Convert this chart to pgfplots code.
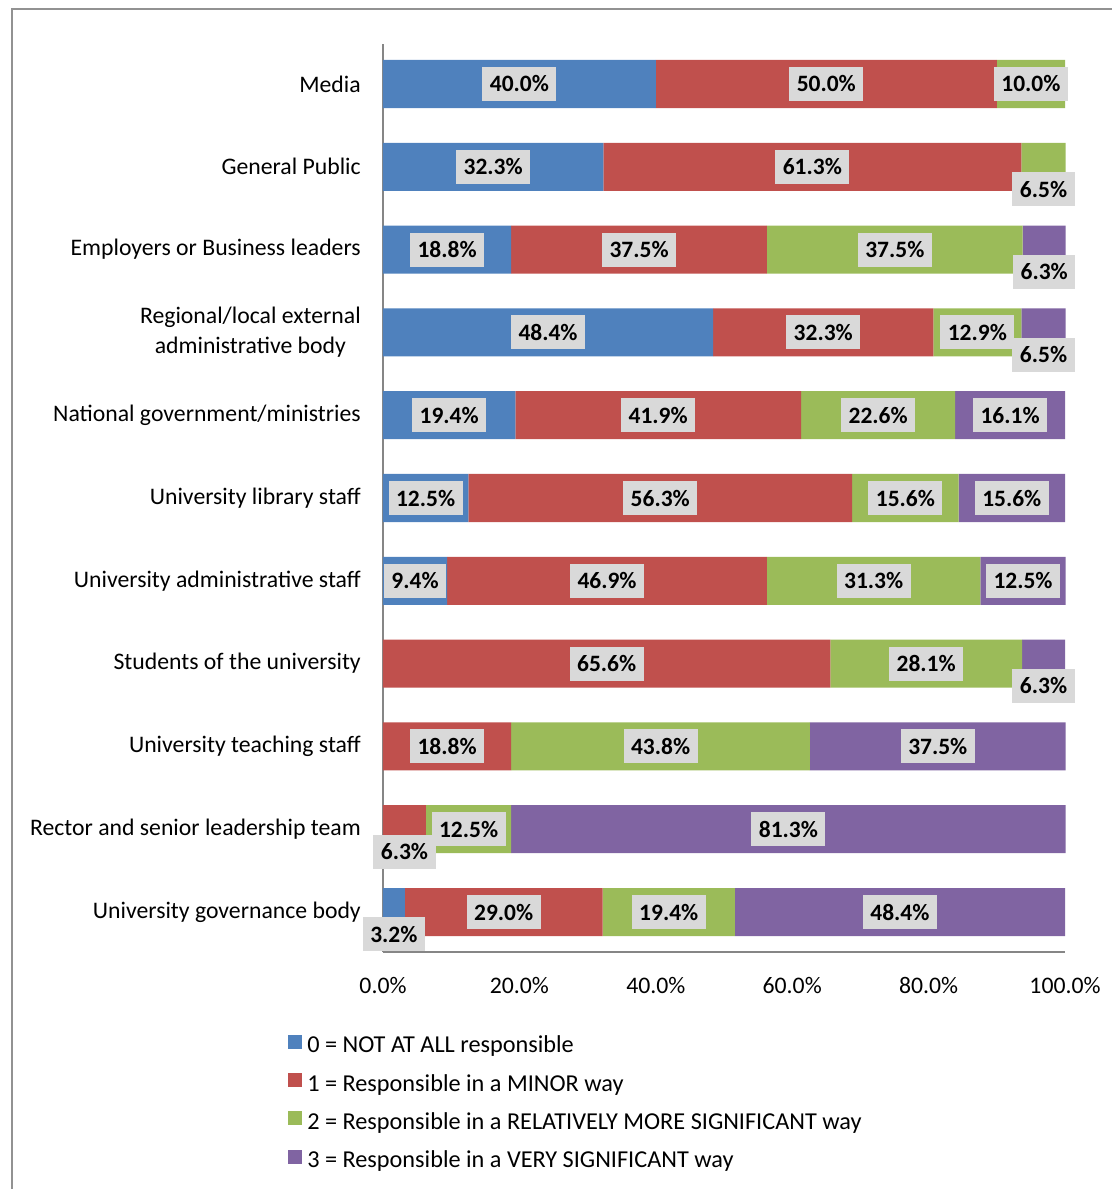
\documentclass[border=0pt]{standalone}
\usepackage{pgfplots}
\pgfplotsset{compat=1.18}
\usepackage{pgfplotstable}
\usepackage{fontspec}
\setmainfont{Carlito}
\definecolor{cA}{HTML}{4F81BD}
\definecolor{cB}{HTML}{C0504D}
\definecolor{cC}{HTML}{9BBB59}
\definecolor{cD}{HTML}{8064A2}
\definecolor{boxgray}{HTML}{D9D9D9}
\definecolor{axgray}{HTML}{868686}

\pgfplotstableread{
idx a b c d
10 40.0 50.0 10.0 0
9 32.3 61.3 6.5 0
8 18.8 37.5 37.5 6.3
7 48.4 32.3 12.9 6.5
6 19.4 41.9 22.6 16.1
5 12.5 56.3 15.6 15.6
4 9.4 46.9 31.3 12.5
3 0 65.6 28.1 6.3
2 0 18.8 43.8 37.5
1 0 6.3 12.5 81.3
0 3.2 29.0 19.4 48.4
}\datatable

\pgfplotsset{
  /pgf/number format/assume math mode=true,
  lbl/.style={forget plot, only marks, mark=none, stack plots=false, point meta=explicit,
    nodes near coords={\pgfmathprintnumber[fixed,fixed zerofill,precision=1]{\pgfplotspointmeta}\%},
    every node near coord/.append style={anchor=center, fill=boxgray, text=black,
      font=\fontsize{17.6}{21}\selectfont\bfseries, inner xsep=5.6pt, inner ysep=0pt, minimum height=25.5pt}},
}
% labels of a stacked axis are put at half of the given x, so x expr gives twice the segment centre
\newcommand\lblplot[2]{%
  \addplot[lbl, restrict expr to domain={\thisrow{#2}}{7:1000}] table[x expr={#1}, y=idx, meta=#2]{\datatable};
  \addplot[lbl, restrict expr to domain={\thisrow{#2}}{0.5:7}] table[x expr={#1}, y expr=\thisrow{idx}-0.27, meta=#2]{\datatable};
}

\begin{document}
\begin{tikzpicture}
\begin{axis}[
  at={(287.25pt,-714pt)}, anchor=south west,
  width=511.5pt, height=681pt, scale only axis,
  xbar stacked, bar width=0.58,
  xmin=0, xmax=100, ymin=-0.483, ymax=10.483,
  clip=false,
  axis x line*=bottom, axis y line*=left,
  axis line style={draw=axgray, line width=0.9pt, -},
  major tick length=0pt,
  xtick={0,20,...,100},
  xticklabels={0.0\%,20.0\%,40.0\%,60.0\%,80.0\%,100.0\%},
  ytick={0,...,10},
  yticklabels={University governance body, Rector and senior leadership team, University teaching staff, Students of the university, University administrative staff, University library staff, National government/ministries, {Regional/local external\\administrative body}, Employers or Business leaders, General Public, Media},
  yticklabel style={align=center, anchor=east, inner sep=0pt, xshift=-16.5pt},
  xticklabel style={anchor=center, inner sep=0pt, yshift=-24.75pt},
  ticklabel style={font=\fontsize{17.8}{22.5}\selectfont},
  legend style={at={(-0.1393,-0.0909)}, anchor=north west, draw=none, fill=none, inner sep=0pt,
    row sep=11.2pt, font=\fontsize{18.2}{22.5}\selectfont,
    nodes={inner sep=0pt, text height=12pt, text depth=4pt},
    /tikz/every odd column/.append style={column sep=3.75pt}},
  legend cell align=left,
  legend image code/.code={\fill[#1] (0pt,-1pt) rectangle (10.5pt,9.5pt);},
]
\addplot[fill=cA, draw=none] table[x=a, y=idx]{\datatable};
\addplot[fill=cB, draw=none] table[x=b, y=idx]{\datatable};
\addplot[fill=cC, draw=none] table[x=c, y=idx]{\datatable};
\addplot[fill=cD, draw=none] table[x=d, y=idx]{\datatable};
\legend{0 = NOT AT ALL responsible, 1 = Responsible in a MINOR way, 2 = Responsible in a RELATIVELY MORE SIGNIFICANT way, 3 = Responsible in a VERY SIGNIFICANT way}
\lblplot{\thisrow{a}}{a}
\lblplot{2*\thisrow{a}+\thisrow{b}}{b}
\lblplot{2*\thisrow{a}+2*\thisrow{b}+\thisrow{c}}{c}
\lblplot{2*\thisrow{a}+2*\thisrow{b}+2*\thisrow{c}+\thisrow{d}}{d}
\end{axis}
\draw[axgray!90, line width=1.5pt] (9pt,-900pt) -- (9pt,-6.75pt) -- (840pt,-6.75pt);
\pgfresetboundingbox
\useasboundingbox (0,0) rectangle (834pt,-891.75pt);
\end{tikzpicture}
\end{document}
